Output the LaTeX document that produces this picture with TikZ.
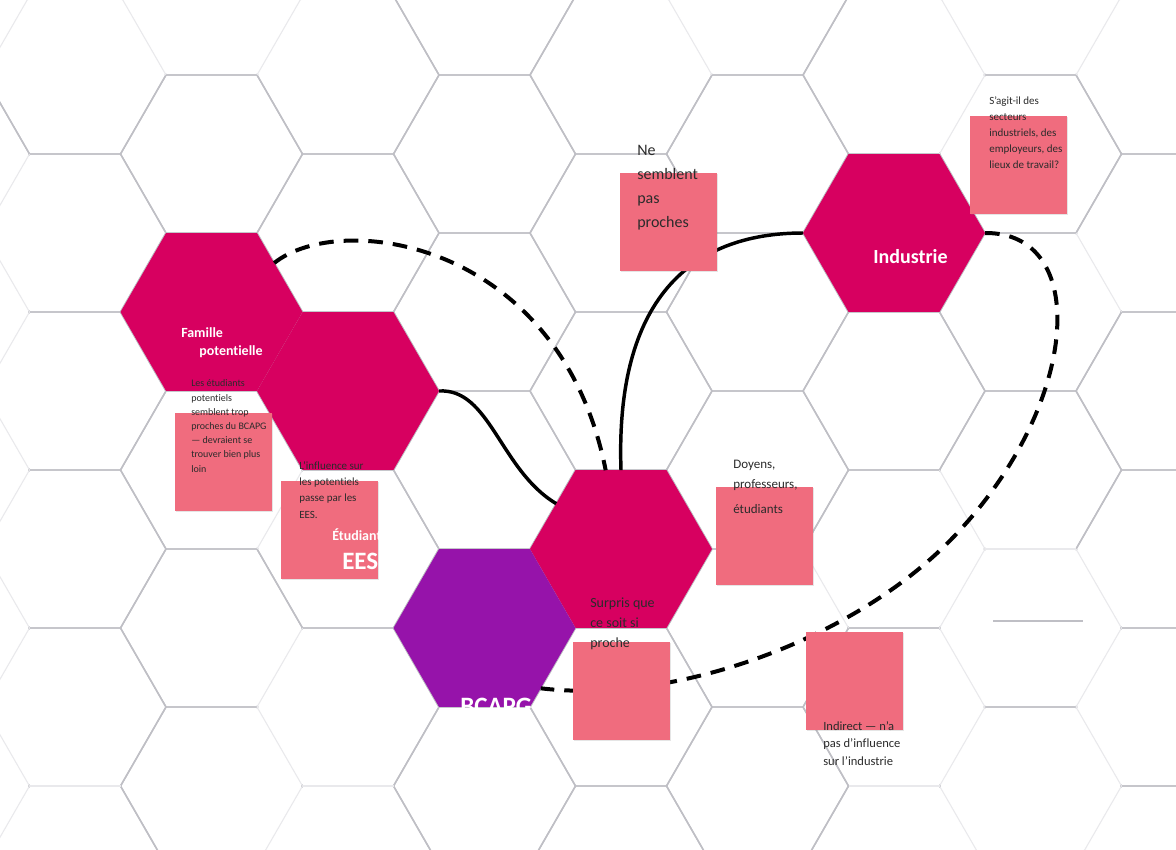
\documentclass[tikz,border=0pt]{standalone}
\usepackage{fontspec}
\setmainfont{Carlito}[Ligatures=NoCommon]
\usetikzlibrary{shapes.geometric,shadows}
\definecolor{mag}{HTML}{D70060}
\definecolor{purp}{HTML}{9613AA}
\definecolor{notec}{HTML}{F06C7E}
\definecolor{gridc}{HTML}{BFBFC5}
\definecolor{gridfaint}{HTML}{E9E9EC}
\definecolor{ink}{HTML}{2B2B2B}
\tikzset{
  hexa/.style={regular polygon, regular polygon sides=6, minimum size=136.5pt,
    inner sep=0pt, outer sep=0pt, draw=none},
  notebox/.style={rectangle, fill=notec, minimum width=72.75pt, minimum height=73.5pt,
    anchor=north west, inner sep=0pt,
    drop shadow={shadow xshift=0.8pt, shadow yshift=-0.8pt, opacity=0.2}},
  notetxt/.style={anchor=base west, align=left, inner sep=0pt, text=ink},
  hexlbl/.style={text=white, inner sep=0pt, anchor=base west},
  solidlink/.style={line width=2.6pt, black},
  dashlink/.style={line width=3pt, black, dash pattern=on 11pt off 7.5pt},
  gridline/.style={gridc, line width=1.1pt, line join=round},
  gridrub/.style={white, line width=2.4pt, shorten <=1.2pt, shorten >=1.2pt},
  gridlight/.style={gridfaint, line width=0.8pt},
}
\newcommand{\faintedge}[2]{\draw[gridrub] #1 -- #2; \draw[gridlight] #1 -- #2;}
\begin{document}
\begin{tikzpicture}[x=0.75pt,y=-0.75pt]
\useasboundingbox (0,0) rectangle (1176,849);
\fill[white] (0,0) rectangle (1176,849);
% background hexagon grid
\begin{scope}
  \clip (0,0) rectangle (1176,849);
  \foreach \i in {-5,...,5}{
    \foreach \m in {-5,...,3}{
      \pgfmathsetmacro{\cx}{621+136.5*\i}
      \pgfmathsetmacro{\cy}{549+79*mod(\i+10,2)+158*\m}
      \draw[gridline] (\cx-91,\cy) -- (\cx-45.5,\cy-79) -- (\cx+45.5,\cy-79)
        -- (\cx+91,\cy) -- (\cx+45.5,\cy+79) -- (\cx-45.5,\cy+79) -- cycle;
    }}
  % faint or missing parts of the grid
  \faintedge{(29.5,-4)}{(-16,75)}
  \faintedge{(29.5,154)}{(-16,233)}
  \faintedge{(-16,233)}{(29.5,312)}
  \faintedge{(29.5,312)}{(-16,391)}
  \faintedge{(-16,391)}{(29.5,470)}
  \faintedge{(29.5,470)}{(-16,549)}
  \faintedge{(-16,549)}{(29.5,628)}
  \faintedge{(29.5,628)}{(-16,707)}
  \faintedge{(-16,707)}{(29.5,786)}
  \faintedge{(29.5,786)}{(-16,865)}
  \faintedge{(29.5,786)}{(120.5,786)}
  \faintedge{(302.5,786)}{(393.5,786)}
  \faintedge{(257,549)}{(302.5,470)}
  \faintedge{(302.5,628)}{(257,707)}
  \faintedge{(257,707)}{(302.5,786)}
  \faintedge{(302.5,786)}{(257,865)}
  \faintedge{(166,75)}{(120.5,-4)}
  \faintedge{(257,75)}{(302.5,-4)}
  \faintedge{(666.5,-4)}{(712,75)}
  \faintedge{(939.5,-4)}{(985,75)}
  \faintedge{(1076,75)}{(1121.5,-4)}
  \faintedge{(985,75)}{(939.5,154)}
  \faintedge{(1076,233)}{(1121.5,312)}
  \faintedge{(985,549)}{(1076,549)}
  \faintedge{(1076,549)}{(1121.5,628)}
  \faintedge{(1121.5,628)}{(1076,707)}
  \faintedge{(939.5,628)}{(985,707)}
  \faintedge{(985,707)}{(939.5,786)}
  \faintedge{(1076,707)}{(1121.5,786)}
  \faintedge{(1121.5,786)}{(1076,865)}
  \faintedge{(939.5,470)}{(985,549)}
  \faintedge{(985,549)}{(939.5,628)}
  \faintedge{(848.5,786)}{(939.5,786)}
  \faintedge{(939.5,786)}{(985,865)}
  \faintedge{(848.5,628)}{(803,549)}
  \draw[gridline] (993,621) -- (1083,621);
\end{scope}
% filled hexagons
\node[hexa, fill=mag] (fam) at (211.5,312) {};
\node[hexa, fill=mag] (ees) at (348,391) {};
\node[hexa, fill=mag] (ctr) at (621,549) {};
\node[hexa, fill=purp] (bcapg) at (484.5,628) {};
\node[hexa, fill=mag] (ind) at (894,233) {};
% connectors
\coordinate (via) at (960,530);
\draw[solidlink] (ees.0) .. controls (490,388) and (500,470) .. (ctr.145);
\draw[solidlink] (ctr.north) .. controls (615,300) and (690,233) .. (ind.180);
\draw[dashlink] (fam.38) .. controls (340,210) and (560,240) .. (ctr.101);
\draw[dashlink] (ind.0) .. controls (1090,232) and (1080,400) .. (via)
  .. controls (865,635) and (680,705) .. (bcapg.-47);
% hexagon labels
\node[hexlbl, align=left, font=\bfseries\fontsize{10.5}{13.5}\selectfont] (famlbl) at (181,355)
  {Famille\\\hspace*{13.5pt}potentielle};
\node[hexlbl, font=\bfseries\fontsize{15}{18}\selectfont] (indlbl) at (873,263) {Industrie};
\begin{scope}
  \clip (484.5-91,628) -- (484.5-45.5,549) -- (484.5+45.5,549) -- (484.5+91,628)
    -- (484.5+45.5,707) -- (484.5-45.5,707) -- cycle;
  \node[hexlbl, font=\bfseries\fontsize{18.75}{22}\selectfont] (bcapglbl) at (460,714) {BCAPG};
\end{scope}
% sticky notes
\node[notebox] (na) at (175,413) {};
\node[notebox] (nb) at (281,481) {};
\node[notebox] (nc) at (620,173) {};
\node[notebox] (nd) at (970,116) {};
\node[notebox] (ne) at (716,487) {};
\node[notebox] (nf) at (573,642) {};
\node[notebox] (ng) at (806,632) {};
% clipped label of the EES hexagon
\begin{scope}
  \clip (0,0) rectangle (379,849);
  \node[hexlbl, font=\bfseries\fontsize{10.5}{13}\selectfont] (eeslbla) at (332,540) {Étudiants};
  \node[hexlbl, font=\bfseries\fontsize{18.75}{22}\selectfont] (eeslblb) at (342,569) {EES};
\end{scope}
% note texts (anchored at the baseline of their last line)
\node[notetxt, font=\fontsize{7.5}{10.65}\selectfont] (ta) at (191,472)
  {Les étudiants\\potentiels\\semblent trop\\proches du BCAPG\\— devraient se\\trouver bien plus\\loin};
\node[notetxt, font=\fontsize{8.25}{12.2}\selectfont] (tb) at (299,518)
  {L’influence sur\\les potentiels\\passe par les\\EES.};
\node[notetxt, font=\fontsize{12}{17.8}\selectfont] (tc) at (637,227)
  {Ne\\semblent\\pas\\proches};
\node[notetxt, font=\fontsize{8.25}{12}\selectfont] (td) at (989,168)
  {S’agit-il des\\secteurs\\industriels, des\\employeurs, des\\lieux de travail?};
\node[notetxt, font=\fontsize{9.75}{15}\selectfont] (te) at (733,513)
  {Doyens,\\professeurs,\\[3.75pt]étudiants};
\node[notetxt, font=\fontsize{10.5}{15}\selectfont] (tf) at (590,647)
  {Surpris que\\ce soit si\\proche};
\node[notetxt, font=\fontsize{9.4}{13.1}\selectfont] (tg) at (823,765)
  {Indirect — n’a\\pas d’influence\\sur l’industrie};
\end{tikzpicture}
\end{document}
